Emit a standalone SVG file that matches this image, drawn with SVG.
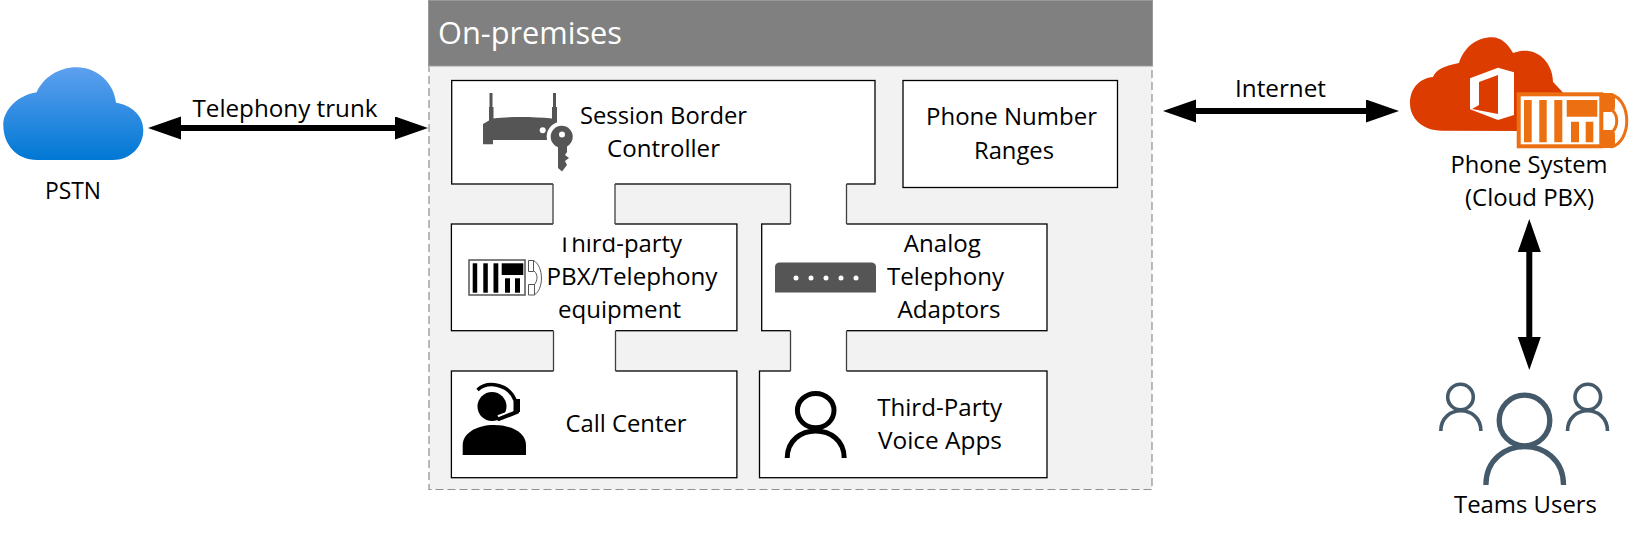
<svg xmlns="http://www.w3.org/2000/svg" width="1633" height="534" viewBox="0 0 1633 534">
<defs>
<linearGradient id="sky" x1="0" y1="0" x2="0" y2="1"><stop offset="0" stop-color="#5ea0ef"/><stop offset="1" stop-color="#0078d4"/></linearGradient>
<marker id="ah" markerUnits="userSpaceOnUse" markerWidth="34" markerHeight="24" refX="1" refY="11.500" orient="auto-start-reverse"><path d="M0,0L33,11.500L0,23Z" fill="#000"/></marker>
</defs>
<style>
text{font-family:"Open Sans","Noto Sans","Liberation Sans",sans-serif;font-size:24.500px;fill:#000;text-anchor:middle}
.box{fill:#fff;stroke:#000;stroke-width:1.300}
.arrow{stroke:#000;stroke-width:6;fill:none;marker-start:url(#ah);marker-end:url(#ah)}
.side{stroke:#404040;stroke-width:1.300;fill:none}
</style>
<rect width="1633" height="534" fill="#fff"/>
<g id="on-premises"><rect x="429" y="1" width="723" height="488.500" fill="#f2f2f2" stroke="#909090" stroke-width="1.200" stroke-dasharray="8 4"/><rect x="428.500" y="0.500" width="724" height="65.500" fill="#808080" stroke="#999" stroke-width="1"/><line x1="429" y1="66.500" x2="1152" y2="66.500" stroke="#c8c8c8" stroke-width="1" stroke-dasharray="8 4"/><text x="530" y="44" style="font-size:31px;fill:#fff" textLength="184" lengthAdjust="spacingAndGlyphs">On-premises</text></g>
<g id="sbc"><rect class="box" x="451.700" y="80.500" width="423.300" height="103.500"/>
<path d="M489.500,93H492.500V107H493.500V118.500C510,116.500 532,116.500 552,118.500V107H553V93H556V107H557V125L548,140H493V144.300H483V124L489,120.500V107H489.500Z" fill="#555"/>
<circle cx="561.700" cy="136.700" r="15" fill="#fff"/>
<circle cx="561.700" cy="136.700" r="11" fill="#555"/><path d="M558,145H567V152L565,155L569,158L565,161L567,165L562,171.500L558,168Z" fill="#555"/>
<circle cx="562" cy="134.500" r="3" fill="#fff"/><circle cx="542.700" cy="130.300" r="3" fill="#fff"/>
<text x="663.500" y="124" textLength="167" lengthAdjust="spacingAndGlyphs">Session Border</text><text x="663.500" y="157" textLength="113" lengthAdjust="spacingAndGlyphs">Controller</text></g>
<g id="ranges"><rect class="box" x="903" y="80.500" width="214.500" height="107"/><text x="1011.500" y="125" textLength="171" lengthAdjust="spacingAndGlyphs">Phone Number</text><text x="1014" y="159" textLength="80" lengthAdjust="spacingAndGlyphs">Ranges</text></g>
<g id="pbx"><rect class="box" x="451.400" y="224" width="285.500" height="106.700"/>
<rect x="469" y="260" width="56" height="35" fill="#fff" stroke="#555" stroke-width="1.500"/><rect x="472.700" y="263.300" width="4.500" height="29.400"/><rect x="483.300" y="263.300" width="4.500" height="29.400"/><rect x="493.500" y="263.300" width="4.800" height="29.400"/><rect x="501.700" y="263.300" width="21.600" height="11.700"/><rect x="505" y="278.300" width="5" height="14.400"/><rect x="515" y="278.300" width="5" height="14.400"/>
<path d="M528.500,260.500H533.500V271.500H528.500ZM528.500,284.500H534.500V295H528.500ZM533.500,260.500C544,266 544,290 534,295M534,271C538,274 538,281 534,285" fill="#fff" stroke="#555" stroke-width="1"/>
<text x="620" y="252" textLength="124" lengthAdjust="spacingAndGlyphs">Third-party</text><text x="632" y="285" textLength="171" lengthAdjust="spacingAndGlyphs">PBX/Telephony</text><text x="619.500" y="318" textLength="123" lengthAdjust="spacingAndGlyphs">equipment</text></g>
<g id="ata"><rect class="box" x="761.700" y="224" width="285.300" height="106.700"/>
<path d="M775,292.500V267Q775,262.500 780,262.500H871Q876,262.500 876,267V292.500Z" fill="#555"/><circle cx="796" cy="278" r="2.500" fill="#fff"/><circle cx="811" cy="278" r="2.500" fill="#fff"/><circle cx="826" cy="278" r="2.500" fill="#fff"/><circle cx="841" cy="278" r="2.500" fill="#fff"/><circle cx="856" cy="278" r="2.500" fill="#fff"/>
<text x="942.300" y="252" textLength="77" lengthAdjust="spacingAndGlyphs">Analog</text><text x="945.500" y="285" textLength="117" lengthAdjust="spacingAndGlyphs">Telephony</text><text x="949" y="318" textLength="103" lengthAdjust="spacingAndGlyphs">Adaptors</text></g>
<g id="call-center"><rect class="box" x="451.400" y="371" width="285.500" height="106.700"/>
<circle cx="492" cy="406.500" r="14.500"/><path d="M462.700,455V445C462.700,433 477,425 494,425C512,425 526,433 526,445V455Z"/>
<path d="M477.500,390C487,381 508,383 515,400" fill="none" stroke="#000" stroke-width="3.500"/>
<path d="M499,419L517,412" stroke="#fff" stroke-width="8" fill="none"/><path d="M499,419L517,412" stroke="#000" stroke-width="4" stroke-linecap="round" fill="none"/><rect x="513.500" y="399" width="6.500" height="13"/>
<text x="626" y="432" textLength="121" lengthAdjust="spacingAndGlyphs">Call Center</text></g>
<g id="voice-apps"><rect class="box" x="759.500" y="371" width="287.500" height="106.700"/>
<ellipse cx="815.700" cy="410.600" rx="18.300" ry="17.200" fill="none" stroke="#000" stroke-width="5"/><path d="M787.200,458C787.200,422 844.200,422 844.200,458" fill="none" stroke="#000" stroke-width="5"/>
<text x="939.700" y="416" textLength="125" lengthAdjust="spacingAndGlyphs">Third-Party</text><text x="940" y="449" textLength="124" lengthAdjust="spacingAndGlyphs">Voice Apps</text></g>
<g id="connectors">
<g fill="#fff"><rect x="553" y="183" width="62" height="54.500"/><rect x="790.500" y="183" width="56" height="42"/><rect x="553.500" y="330" width="62" height="42"/><rect x="790.500" y="330" width="56" height="42"/></g>
<path class="side" d="M553,184V224M615,184V224M790.500,184V224M846.500,184V224M553.500,331V371M615.500,331V371M790.500,331V371M846.500,331V371"/>
<line class="arrow" x1="180" y1="128" x2="396" y2="128"/>
<text x="285" y="117" textLength="185" lengthAdjust="spacingAndGlyphs">Telephony trunk</text>
<line class="arrow" x1="1195" y1="111" x2="1367" y2="111"/>
<text x="1280.500" y="96.500" textLength="91" lengthAdjust="spacingAndGlyphs">Internet</text>
<line class="arrow" x1="1529.300" y1="251" x2="1529.300" y2="338"/>
</g>
<g id="pstn"><path d="M37,160C17,160 3.300,145 3.300,125C3.300,110 18,95 36.700,92.300C43,78 58,67.300 76.700,67.300C97,67.300 114,83 116,102.700C131,105 143.300,115 143.300,130C143.300,147 130,160 113,160Z" fill="url(#sky)"/><text x="73" y="199" textLength="56" lengthAdjust="spacingAndGlyphs">PSTN</text></g>
<g id="phone-system">
<path d="M1442,130.700C1422,130.700 1410,118 1410,103.300C1410,88 1420,78 1433,77C1436,70 1443,66 1459,63C1464,47 1477,37.300 1492,37.300C1501,37.300 1508,44 1513,53C1518,51 1522,50.700 1527,50.700C1542,52 1553,66 1553,82C1557,86 1561,90 1563,93L1540,131Z" fill="#dc3c00"/>
<path d="M1470,78.300L1498,67.700L1514,72.300V115L1498,120L1470,109.300Z" fill="#fff"/><path d="M1479,82L1498,75V114L1472,109L1479,105Z" fill="#dc3c00"/>
<rect x="1518.700" y="94.300" width="82.600" height="52" fill="#fff" stroke="#ec7012" stroke-width="4"/>
<path d="M1524,100h7.700v42.300h-7.700zM1539.300,100h7.400v42.300h-7.400zM1554.300,100h8v42.300h-8zM1566.700,100h30.600v16.700h-30.600zM1571,121.700h8v20.600h-8zM1585.700,121.700h7.600v20.600h-7.600z" fill="#ec7012"/>
<path d="M1603,93H1611Q1615,93 1615,98V107Q1615,112 1611,112H1603ZM1603,130H1611Q1615,130 1615,135V143Q1615,148 1611,148H1603Z" fill="#ec7012"/>
<path d="M1611,94.500C1632,100 1632,142 1611,147M1613,111C1618,116 1618,126 1613,131" fill="none" stroke="#ec7012" stroke-width="3"/>
<text x="1529" y="173" textLength="157" lengthAdjust="spacingAndGlyphs">Phone System</text><text x="1529.500" y="206" textLength="129" lengthAdjust="spacingAndGlyphs">(Cloud PBX)</text></g>
<g id="teams-users" fill="none" stroke="#44596a">
<circle cx="1524.500" cy="420.500" r="25.300" stroke-width="5.300"/><path d="M1485.900,485C1485.900,433.800 1563.500,433.800 1563.500,485" stroke-width="5.300"/>
<circle cx="1460.500" cy="397" r="12.800" stroke-width="3.600"/><path d="M1440.800,431C1440.800,404 1480.900,404 1480.900,431" stroke-width="3.600"/>
<circle cx="1587.800" cy="397" r="12.800" stroke-width="3.600"/><path d="M1567.500,431C1567.500,404 1607.500,404 1607.500,431" stroke-width="3.600"/>
<text x="1525.500" y="513" textLength="143" lengthAdjust="spacingAndGlyphs" stroke="none">Teams Users</text></g>
</svg>
